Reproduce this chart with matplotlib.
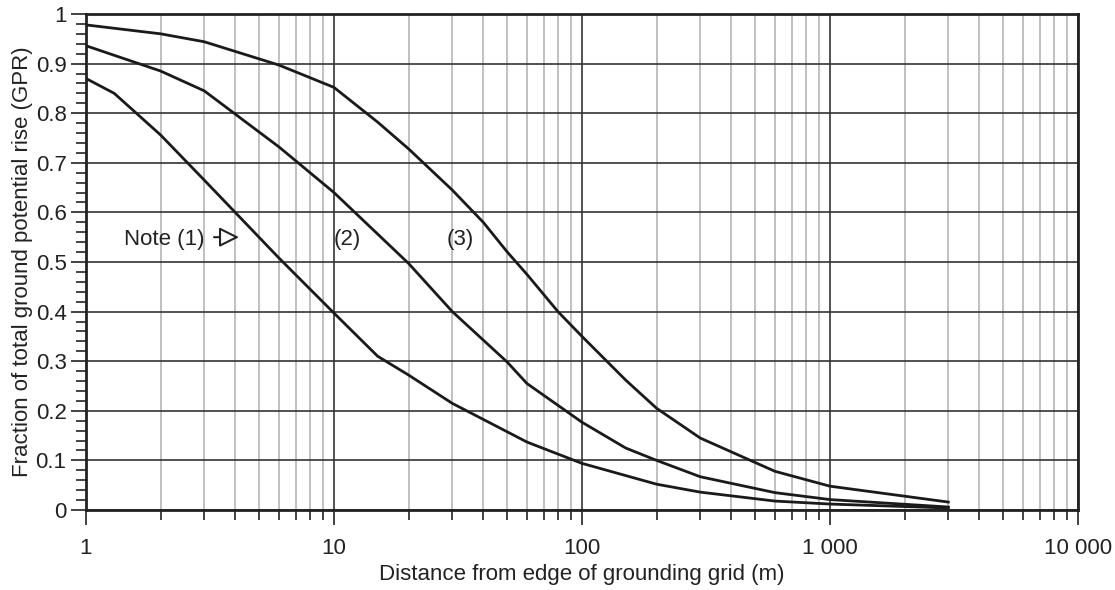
import matplotlib.pyplot as plt
import numpy as np
from matplotlib.ticker import FixedLocator, MultipleLocator, FuncFormatter

plt.rcParams['font.family'] = ['Liberation Sans', 'DejaVu Sans']

# curve (1)
x1 = [1, 1.3, 2, 3, 6, 10, 15, 20, 30, 60, 100, 200, 300, 600, 1000, 3000]
y1 = [0.87, 0.84, 0.756, 0.665, 0.508, 0.397, 0.31, 0.272, 0.215, 0.137, 0.094,
      0.052, 0.036, 0.018, 0.012, 0.004]

# curve (2)
x2 = [1, 2, 3, 6, 10, 20, 30, 50, 60, 100, 150, 200, 300, 600, 1000, 3000]
y2 = [0.936, 0.885, 0.845, 0.732, 0.64, 0.497, 0.40, 0.298, 0.255, 0.177, 0.125,
      0.10, 0.067, 0.035, 0.021, 0.006]

# curve (3)
x3 = [1, 2, 3, 6, 10, 15, 20, 30, 40, 50, 60, 80, 100, 150, 200, 300, 600, 1000, 3000]
y3 = [0.978, 0.96, 0.944, 0.897, 0.852, 0.782, 0.728, 0.645, 0.58, 0.52, 0.475,
      0.40, 0.35, 0.262, 0.205, 0.145, 0.078, 0.048, 0.016]

xticks = [1, 10, 100, 1000, 10000]
xtick_labels = ['1', '10', '100', '1 000', '10 000']

fig = plt.figure(figsize=(11.15, 5.9), dpi=100)
ax = fig.add_axes([0.0771, 0.1356, 0.8897, 0.8407])

for xs, ys in ((x1, y1), (x2, y2), (x3, y3)):
    ax.plot(xs, ys, color='#1a1a1a', lw=2, zorder=3)

ax.set_xscale('log')
ax.set_xlim(1, 10000)
ax.set_ylim(0, 1)

ax.set_xticks(xticks)
ax.set_xticklabels(xtick_labels)
minor_x = [m * 10 ** d for d in range(4) for m in range(2, 10)]
ax.xaxis.set_minor_locator(FixedLocator(minor_x))
ax.xaxis.set_minor_formatter(FuncFormatter(lambda v, p: ''))

ax.yaxis.set_major_locator(MultipleLocator(0.1))
ax.yaxis.set_minor_locator(MultipleLocator(0.02))
ax.yaxis.set_major_formatter(FuncFormatter(lambda v, p: '%g' % round(v, 1)))

ax.grid(which='major', color='#333333', lw=1.2, zorder=1)
ax.grid(which='minor', axis='x', color='#b5b5b5', lw=1.2, zorder=1)

ax.tick_params(which='major', direction='out', length=11, width=1.2, labelsize=16, colors='#222222', pad=3)
ax.tick_params(which='minor', direction='out', length=7, width=1.2, colors='#222222')
ax.tick_params(axis='x', which='major', pad=9)

for s in ax.spines.values():
    s.set_linewidth(2)
    s.set_color('#222222')

ax.set_xlabel('Distance from edge of grounding grid (m)', fontsize=16, color='#222222', labelpad=4)
ax.set_ylabel('Fraction of total ground potential rise (GPR)', fontsize=16, color='#222222', labelpad=2)

# labels
ax.text(1.42, 0.545, 'Note (1)', fontsize=16, ha='left', va='center', color='#222222')
ax.annotate('', xy=(4.25, 0.55), xytext=(3.2, 0.55),
            arrowprops=dict(arrowstyle='-|>,head_length=1.2,head_width=0.6',
                            fc='white', ec='#222222', lw=1.5))
ax.text(11.3, 0.545, '(2)', fontsize=16, ha='center', va='center', color='#222222')
ax.text(32.2, 0.545, '(3)', fontsize=16, ha='center', va='center', color='#222222')

fig.savefig('out.png', dpi=100)
